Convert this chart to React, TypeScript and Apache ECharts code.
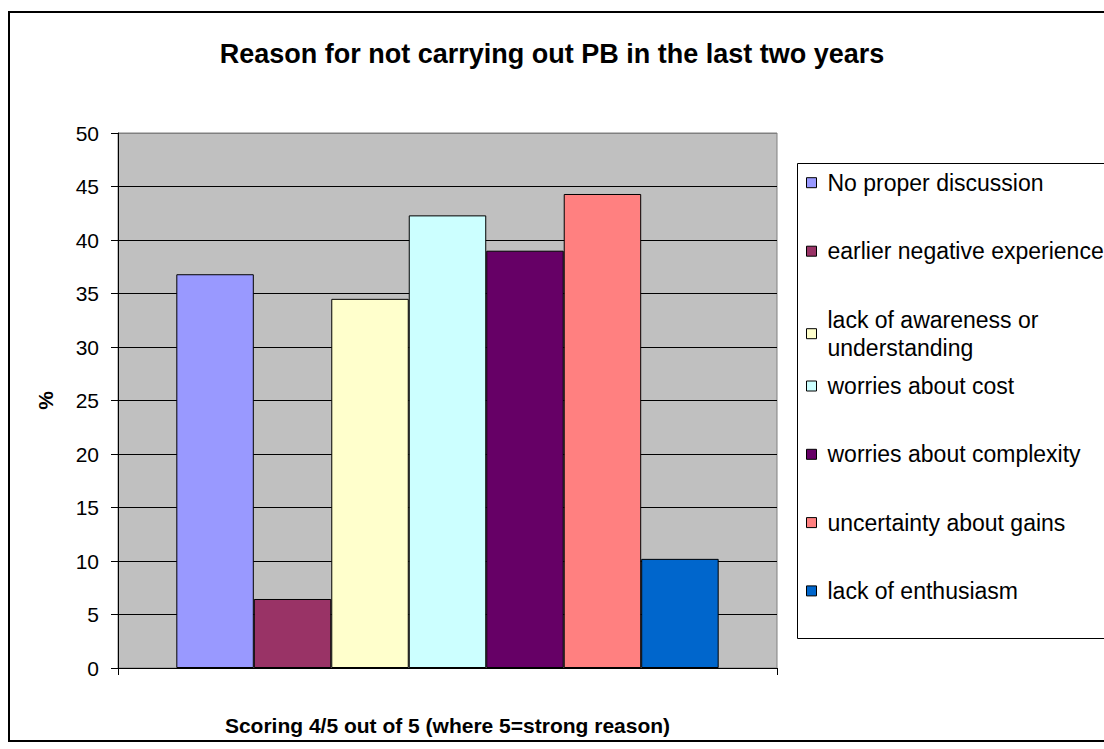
import React, { useEffect, useRef } from 'react';
import * as echarts from 'echarts';

const chartTitle = 'Reason for not carrying out PB in the last two years';
const xAxisTitle = 'Scoring 4/5 out of 5 (where 5=strong reason)';
const yAxisTitle = '%';
const categories = [''];
const seriesNames = [
  'No proper discussion',
  'earlier negative experience',
  'lack of awareness or understanding',
  'worries about cost',
  'worries about complexity',
  'uncertainty about gains',
  'lack of enthusiasm',
];
const seriesValues = [36.8, 6.45, 34.5, 42.3, 39.0, 44.3, 10.2];
const seriesColors = ['#9999FF', '#993366', '#FFFFCC', '#CCFFFF', '#660066', '#FF8080', '#0066CC'];
const yMin = 0;
const yMax = 50;
const yStep = 5;

const FONT = '"Liberation Sans", Arial, sans-serif';

export default function App() {
  const ref = useRef<HTMLDivElement>(null);
  useEffect(() => {
    document.body.style.margin = '0';
    if (!ref.current) return;
    const chart = echarts.init(ref.current, null, { renderer: 'svg' });
    const splitColors: string[] = [];
    for (let v = yMin; v <= yMax; v += yStep) splitColors.push(v === yMax ? '#808080' : '#000000');
    const legendText = {
      fontFamily: FONT,
      fontSize: 23,
      color: '#000',
      lineHeight: 28,
      padding: [0, 0, 0, 6],
    };
    const option: any = {
      animation: false,
      backgroundColor: '#ffffff',
      title: {
        text: chartTitle,
        left: 'center',
        top: 35,
        textStyle: { fontFamily: FONT, fontSize: 27, fontWeight: 'bold', color: '#000' },
      },
      graphic: [
        {
          type: 'rect',
          shape: { x: 9, y: 12, width: 1200, height: 729 },
          style: { fill: 'none', stroke: '#000', lineWidth: 2 },
          silent: true,
        },
        {
          type: 'rect',
          shape: { x: 797.5, y: 163.5, width: 400, height: 475 },
          style: { fill: '#fff', stroke: '#000', lineWidth: 1 },
          silent: true,
          z: -1,
        },
      ],
      legend: [
        {
          orient: 'vertical',
          left: 806,
          top: 168.7,
          padding: 0,
          itemWidth: 10,
          itemHeight: 10,
          itemGap: 40.5,
          icon: 'rect',
          itemStyle: { borderColor: '#000', borderWidth: 1 },
          textStyle: legendText,
          formatter: (name: string) =>
            name === 'lack of awareness or understanding' ? 'lack of awareness or\nunderstanding' : name,
          data: seriesNames.slice(0, 3),
          selectedMode: false,
        },
        {
          orient: 'vertical',
          left: 806,
          top: 372,
          padding: 0,
          itemWidth: 10,
          itemHeight: 10,
          itemGap: 40.3,
          icon: 'rect',
          itemStyle: { borderColor: '#000', borderWidth: 1 },
          textStyle: legendText,
          data: seriesNames.slice(3),
          selectedMode: false,
        },
      ],
      grid: {
        left: 118,
        top: 133,
        right: 1104 - 777,
        bottom: 749 - 668,
        show: true,
        backgroundColor: '#C0C0C0',
        borderColor: '#808080',
        borderWidth: 1,
      },
      xAxis: {
        type: 'category',
        data: categories,
        name: xAxisTitle,
        nameLocation: 'middle',
        nameGap: 47,
        nameTextStyle: { fontFamily: FONT, fontSize: 21, fontWeight: 'bold', color: '#000' },
        axisLine: { lineStyle: { color: '#000', width: 1 } },
        axisTick: { show: true, length: 7, lineStyle: { color: '#000' } },
        axisLabel: { show: false },
        splitLine: { show: false },
      },
      yAxis: {
        type: 'value',
        min: yMin,
        max: yMax,
        interval: yStep,
        name: yAxisTitle,
        nameLocation: 'middle',
        nameGap: 62,
        nameRotate: 90,
        nameTextStyle: { fontFamily: FONT, fontSize: 21, fontWeight: 'bold', color: '#000' },
        axisLine: { show: true, lineStyle: { color: '#000', width: 1 } },
        axisTick: { show: true, length: 7, lineStyle: { color: '#000' } },
        axisLabel: { fontFamily: FONT, fontSize: 21, color: '#000', margin: 19 },
        splitLine: { show: true, lineStyle: { color: splitColors, width: 1 } },
      },
      series: seriesNames.map((name, i) => ({
        name,
        type: 'bar',
        data: [seriesValues[i]],
        barGap: '0%',
        barCategoryGap: '17.7%',
        itemStyle: { color: seriesColors[i], borderColor: '#000', borderWidth: 1 },
      })),
    };
    chart.setOption(option);
    return () => chart.dispose();
  }, []);
  return <div ref={ref} style={{ width: 1104, height: 749 }} />;
}
